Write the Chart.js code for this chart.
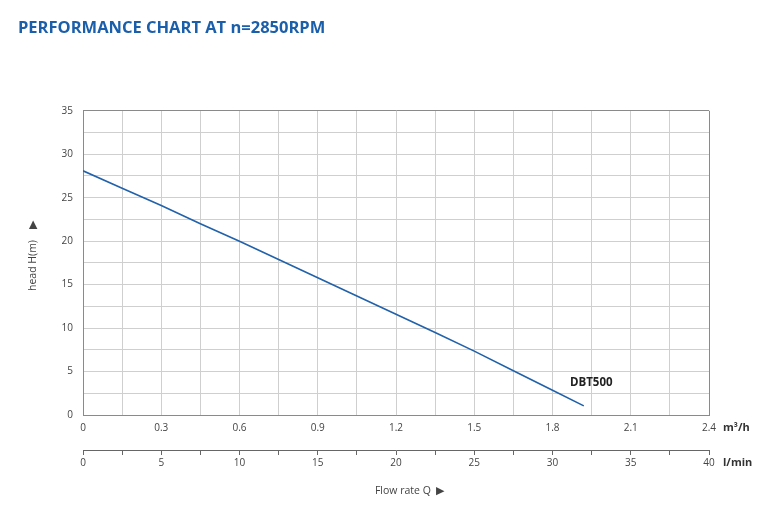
<!DOCTYPE html>
<html>
<head>
<meta charset="utf-8">
<title>Performance chart</title>
<script src="https://cdn.jsdelivr.net/npm/chart.js@4.4.1/dist/chart.umd.min.js"></script>
<style>
    html, body { margin: 0; padding: 0; background: #fff; }
    #wrap { width: 773px; height: 525px; }
</style>
</head>
<body>
<div id="wrap"><canvas id="perfChart" width="773" height="525"></canvas></div>
<script>
/**=================
 * Chart data
 =================*/
const flowM3h = [0, 0.15, 0.3, 0.45, 0.6, 0.75, 0.9, 1.05, 1.2, 1.35, 1.5, 1.65, 1.8, 1.92];
const headM = [28.1, 26.1, 24.1, 22.0, 20.0, 17.9, 15.8, 13.7, 11.6, 9.5, 7.35, 5.1, 2.85, 1.05];
const seriesName = 'DBT500';
const seriesLabelAt = { x: 1.867, y: 3.7 };

const headTicks = [0, 5, 10, 15, 20, 25, 30, 35];
const flowTicksM3h = [0, 0.3, 0.6, 0.9, 1.2, 1.5, 1.8, 2.1, 2.4];
const flowTicksLmin = [0, 5, 10, 15, 20, 25, 30, 35, 40];

const textColor = '#444';
const gridColor = '#cfcfcf';
const frameColor = '#8a8a8a';
const lineColor = '#2162ab';
const fontFamily = '"Open Sans", "Noto Sans", sans-serif';

const isLabelled = (list, v) => list.some(t => Math.abs(t - v) < 1e-6);

/**=========================
 * Unit / series labels
 =========================*/
const extraLabels = {
    id: 'extraLabels',
    afterDraw(chart) {
        const { ctx, chartArea, scales } = chart;
        ctx.save();
        ctx.fillStyle = '#333';
        ctx.textBaseline = 'middle';
        ctx.textAlign = 'left';
        ctx.font = 'bold 11px ' + fontFamily;
        ctx.fillText('m³/h', chartArea.right + 14, scales.x.top + 13);
        ctx.fillText('l/min', chartArea.right + 14, scales.x2.top + 13);

        ctx.font = 'bold 11.5px ' + fontFamily;
        ctx.fillStyle = '#222';
        ctx.fillText(seriesName, scales.x.getPixelForValue(seriesLabelAt.x), scales.y.getPixelForValue(seriesLabelAt.y));
        ctx.restore();
    }
};

/**=========================
 * Performance chart
 =========================*/
const perfCtx = document.getElementById('perfChart');
const perfChart = new Chart(perfCtx, {
    type: 'line',
    data: {
        datasets: [{
            label: seriesName,
            data: flowM3h.map((q, i) => ({ x: q, y: headM[i] })),
            borderColor: lineColor,
            borderWidth: 1.6,
            pointRadius: 0,
            tension: 0,
            fill: false
        }]
    },
    options: {
        responsive: false,
        animation: false,
        layout: {
            padding: { left: 18, right: 64, top: 0, bottom: 0 }
        },
        plugins: {
            legend: { display: false },
            tooltip: { enabled: false },
            title: {
                display: true,
                text: 'PERFORMANCE CHART AT n=2850RPM',
                align: 'start',
                color: '#1b5fab',
                font: { family: fontFamily, size: 16.5, weight: 'bold' },
                padding: { top: 18, bottom: 73 }
            }
        },
        scales: {
            x: {
                type: 'linear',
                position: 'bottom',
                min: 0,
                max: 2.4,
                afterFit(scale) { scale.height = 35; },
                border: { color: frameColor, width: 1 },
                grid: {
                    drawTicks: false,
                    color: ctx => (ctx.tick && (ctx.tick.value === 0 || Math.abs(ctx.tick.value - 2.4) < 1e-6)) ? frameColor : gridColor
                },
                ticks: {
                    stepSize: 0.15,
                    padding: 7,
                    maxRotation: 0,
                    autoSkip: false,
                    color: textColor,
                    font: { family: fontFamily, size: 10 },
                    callback: v => isLabelled(flowTicksM3h, v) ? (v === 0 ? '0' : v.toFixed(1)) : ''
                }
            },
            x2: {
                type: 'linear',
                position: 'bottom',
                min: 0,
                max: 40,
                afterFit(scale) { scale.height = 75; },
                border: { color: '#666', width: 1 },
                grid: {
                    drawOnChartArea: false,
                    drawTicks: true,
                    tickLength: 5,
                    color: '#666'
                },
                ticks: {
                    stepSize: 2.5,
                    padding: 2,
                    maxRotation: 0,
                    autoSkip: false,
                    color: textColor,
                    font: { family: fontFamily, size: 10 },
                    callback: v => isLabelled(flowTicksLmin, v) ? String(v) : ''
                },
                title: {
                    display: true,
                    text: '          Flow rate Q  ▶',
                    color: textColor,
                    font: { family: fontFamily, size: 10.5 },
                    padding: { top: 4, bottom: 28 }
                }
            },
            y: {
                type: 'linear',
                min: 0,
                max: 35,
                afterFit(scale) { scale.width = 65; },
                border: { color: frameColor, width: 1 },
                grid: {
                    drawTicks: false,
                    color: ctx => (ctx.tick && (ctx.tick.value === 0 || ctx.tick.value === 35)) ? frameColor : gridColor
                },
                ticks: {
                    stepSize: 2.5,
                    padding: 10,
                    autoSkip: false,
                    color: textColor,
                    font: { family: fontFamily, size: 10 },
                    callback: v => isLabelled(headTicks, v) ? String(v) : ''
                },
                title: {
                    display: true,
                    text: '     head H(m)    ▶',
                    color: textColor,
                    font: { family: fontFamily, size: 10.5 },
                    padding: { top: 9, bottom: 0 }
                }
            }
        }
    },
    plugins: [extraLabels]
});
</script>
</body>
</html>
